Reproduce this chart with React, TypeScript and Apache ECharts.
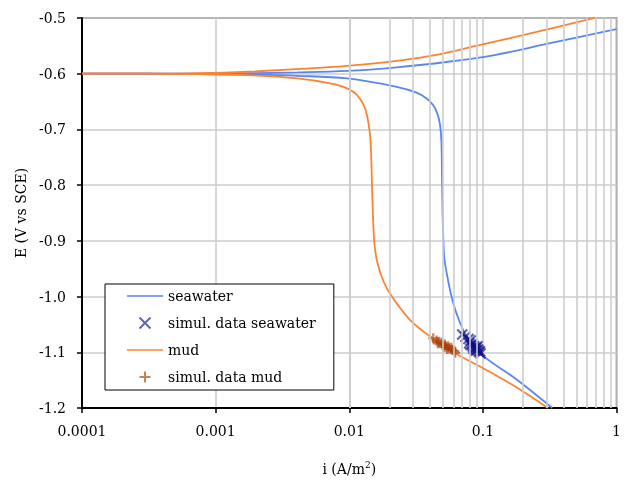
import React, { useEffect, useRef } from "react";
import * as echarts from "echarts";

// Seawater polarization curve (anodic branch)
const seawaterAnodicI = [0.0001, 0.0003, 0.000745, 0.00175, 0.0041, 0.00965, 0.02266, 0.0532, 0.1251, 0.2938, 0.5435, 1.0];
const seawaterAnodicE = [-0.6, -0.6, -0.5998, -0.5992, -0.5977, -0.595, -0.5885, -0.579, -0.566, -0.547, -0.5335, -0.5198];
// Seawater polarization curve (cathodic branch)
const seawaterCathodicI = [0.0001, 0.0003, 0.000745, 0.00175, 0.0041, 0.00965, 0.02266, 0.0319, 0.0379, 0.04264, 0.04566, 0.04764, 0.04889, 0.04939, 0.0499, 0.0506, 0.05145, 0.05418, 0.05799, 0.06316, 0.0749, 0.1, 0.1757, 0.3306];
const seawaterCathodicE = [-0.6, -0.6, -0.6006, -0.6015, -0.6038, -0.6085, -0.6235, -0.634, -0.6444, -0.657, -0.672, -0.69, -0.72, -0.78, -0.85, -0.8993, -0.9317, -0.964, -0.9982, -1.0288, -1.0701, -1.1061, -1.1475, -1.2];
// Mud polarization curve (anodic branch)
const mudAnodicI = [0.0001, 0.0003, 0.000745, 0.00175, 0.0041, 0.00965, 0.02266, 0.04487, 0.0889, 0.2477, 0.69];
const mudAnodicE = [-0.6, -0.6, -0.5992, -0.5965, -0.5917, -0.5858, -0.577, -0.566, -0.55, -0.5255, -0.4998];
// Mud polarization curve (cathodic branch)
const mudCathodicI = [0.0001, 0.0003, 0.000745, 0.00175, 0.0041, 0.007215, 0.009647, 0.01144, 0.01283, 0.01357, 0.01422, 0.01454, 0.01479, 0.01504, 0.0153, 0.01556, 0.0161, 0.01754, 0.02021, 0.02878, 0.04241, 0.0631, 0.1053, 0.1757, 0.3066];
const mudCathodicE = [-0.6, -0.6, -0.6008, -0.6025, -0.6085, -0.6175, -0.6264, -0.6385, -0.6565, -0.6745, -0.7045, -0.7374, -0.8004, -0.8543, -0.8939, -0.9137, -0.9353, -0.9653, -0.9951, -1.0432, -1.0755, -1.1025, -1.1313, -1.1619, -1.2];
// Simulation data
const seawaterSimI = [0.07, 0.074, 0.078, 0.081, 0.079, 0.081, 0.083, 0.084, 0.086, 0.087, 0.089, 0.09, 0.092, 0.093, 0.095, 0.096, 0.088, 0.085, 0.091];
const seawaterSimE = [-1.068, -1.072, -1.076, -1.079, -1.084, -1.087, -1.086, -1.09, -1.089, -1.093, -1.092, -1.096, -1.095, -1.099, -1.098, -1.102, -1.097, -1.094, -1.089];
const mudSimI = [0.0425, 0.045, 0.047, 0.046, 0.049, 0.05, 0.052, 0.053, 0.055, 0.056, 0.058, 0.059, 0.061, 0.062, 0.054, 0.051];
const mudSimE = [-1.075, -1.079, -1.081, -1.084, -1.083, -1.087, -1.086, -1.09, -1.089, -1.093, -1.092, -1.096, -1.098, -1.101, -1.094, -1.091];

// Axis ticks
const xDecades = [0.0001, 0.001, 0.01, 0.1, 1];
const xMinorMultipliers = [2, 3, 4, 5, 6, 7, 8, 9];
const yTicks = [-1.2, -1.1, -1.0, -0.9, -0.8, -0.7, -0.6, -0.5];

const seriesNames = ["seawater", "simul. data seawater", "mud", "simul. data mud"];

const zip = (a: number[], b: number[]) => a.map((v, i) => [v, b[i]]);

const FONT = "DejaVu Serif";
const BLUE = "#5a86f0";
const ORANGE = "#fb8433";
const NAVY = "#10108a";
const BROWN = "#a83d08";
const GRID = "#cdcdcd";
const CROSS = "path://M0,0L10,10M10,0L0,10";
const PLUS = "path://M5,0L5,10M0,5L10,5";
const LINE_ICON = "path://M0,0H36V1.6H0Z";

export default function App() {
  const ref = useRef<HTMLDivElement>(null);
  useEffect(() => {
    if (!ref.current) return;
    const chart = echarts.init(ref.current, undefined, { renderer: "svg" });
    const minor: number[] = [];
    xDecades.slice(0, -1).forEach((d) => xMinorMultipliers.forEach((m) => minor.push(+(d * m).toPrecision(3))));

    const lineSeries = (name: string, xs: number[], ys: number[], color: string) => ({
      name,
      type: "line",
      data: zip(xs, ys),
      symbol: "none",
      smooth: 0.35,
      lineStyle: { color, width: 1.8 },
      itemStyle: { color },
      z: 3,
    });

    chart.setOption({
      animation: false,
      grid: { left: 82, right: 4.5, top: 18, bottom: 73, show: true, borderColor: "#444", borderWidth: 1.5 },
      legend: {
        orient: "vertical",
        left: 105,
        top: 284,
        data: [
          { name: seriesNames[0], icon: LINE_ICON, itemStyle: { color: BLUE } },
          { name: seriesNames[1], icon: CROSS },
          { name: seriesNames[2], icon: LINE_ICON, itemStyle: { color: ORANGE } },
          { name: seriesNames[3], icon: PLUS },
        ],
        backgroundColor: "#fff",
        borderColor: "#000",
        borderWidth: 1,
        borderRadius: 0,
        padding: [5, 18, 6, 22],
        itemWidth: 36,
        itemHeight: 11,
        itemGap: 13,
        textStyle: { fontFamily: FONT, fontSize: 14, color: "#000" },
      },
      xAxis: {
        type: "log",
        logBase: 10,
        min: 0.0001,
        max: 1,
        name: "i (A/m{sup|2})",
        nameLocation: "middle",
        nameGap: 52,
        nameTextStyle: {
          fontFamily: FONT,
          fontSize: 14,
          color: "#000",
          rich: { sup: { fontFamily: FONT, fontSize: 9, verticalAlign: "top", padding: [0, 0, 8, 0] } },
        },
        axisLine: { lineStyle: { color: "#000", width: 2 } },
        axisTick: { show: true, length: 5, lineStyle: { color: "#000", width: 1.5 } },
        axisLabel: {
          fontFamily: FONT,
          fontSize: 14,
          color: "#000",
          margin: 16,
          formatter: (v: number) => String(parseFloat(v.toPrecision(6))),
        },
        splitLine: { show: true, lineStyle: { color: GRID, width: 1.6 } },
      },
      yAxis: {
        type: "value",
        min: -1.2,
        max: -0.5,
        interval: 0.1,
        name: "E (V vs SCE)",
        nameLocation: "middle",
        nameGap: 52,
        nameTextStyle: { fontFamily: FONT, fontSize: 14, color: "#000" },
        axisLine: { show: true, lineStyle: { color: "#000", width: 2 } },
        axisTick: { show: true, length: 5, lineStyle: { color: "#000", width: 1.5 } },
        axisLabel: {
          fontFamily: FONT,
          fontSize: 14,
          color: "#000",
          margin: 16,
          formatter: (v: number) => (yTicks.includes(+v.toFixed(1)) ? v.toFixed(1) : ""),
        },
        splitLine: { show: true, lineStyle: { color: GRID, width: 1.6 } },
      },
      series: [
        {
          name: "minor-grid",
          type: "line",
          data: [[0.0001, -0.6]],
          symbol: "none",
          silent: true,
          lineStyle: { opacity: 0 },
          z: 1,
          markLine: {
            silent: true,
            symbol: ["none", "none"],
            label: { show: false },
            lineStyle: { color: GRID, width: 1.6, type: "solid" },
            emphasis: { disabled: true },
            data: minor.map((v) => ({ xAxis: v })),
          },
        },
        lineSeries("seawater", seawaterAnodicI, seawaterAnodicE, BLUE),
        lineSeries("seawater", seawaterCathodicI, seawaterCathodicE, BLUE),
        lineSeries("mud", mudAnodicI, mudAnodicE, ORANGE),
        lineSeries("mud", mudCathodicI, mudCathodicE, ORANGE),
        {
          name: "simul. data seawater",
          type: "scatter",
          data: zip(seawaterSimI, seawaterSimE),
          symbol: CROSS,
          symbolSize: 10,
          itemStyle: { color: "rgba(0,0,0,0)", borderColor: NAVY, borderWidth: 2.2, opacity: 0.65 },
          z: 4,
        },
        {
          name: "simul. data mud",
          type: "scatter",
          data: zip(mudSimI, mudSimE),
          symbol: PLUS,
          symbolSize: 10,
          itemStyle: { color: "rgba(0,0,0,0)", borderColor: BROWN, borderWidth: 2.2, opacity: 0.65 },
          z: 4,
        },
      ],
    });
    return () => chart.dispose();
  }, []);
  return <div ref={ref} style={{ position: "fixed", left: 0, top: 0, width: 624, height: 481 }} />;
}
